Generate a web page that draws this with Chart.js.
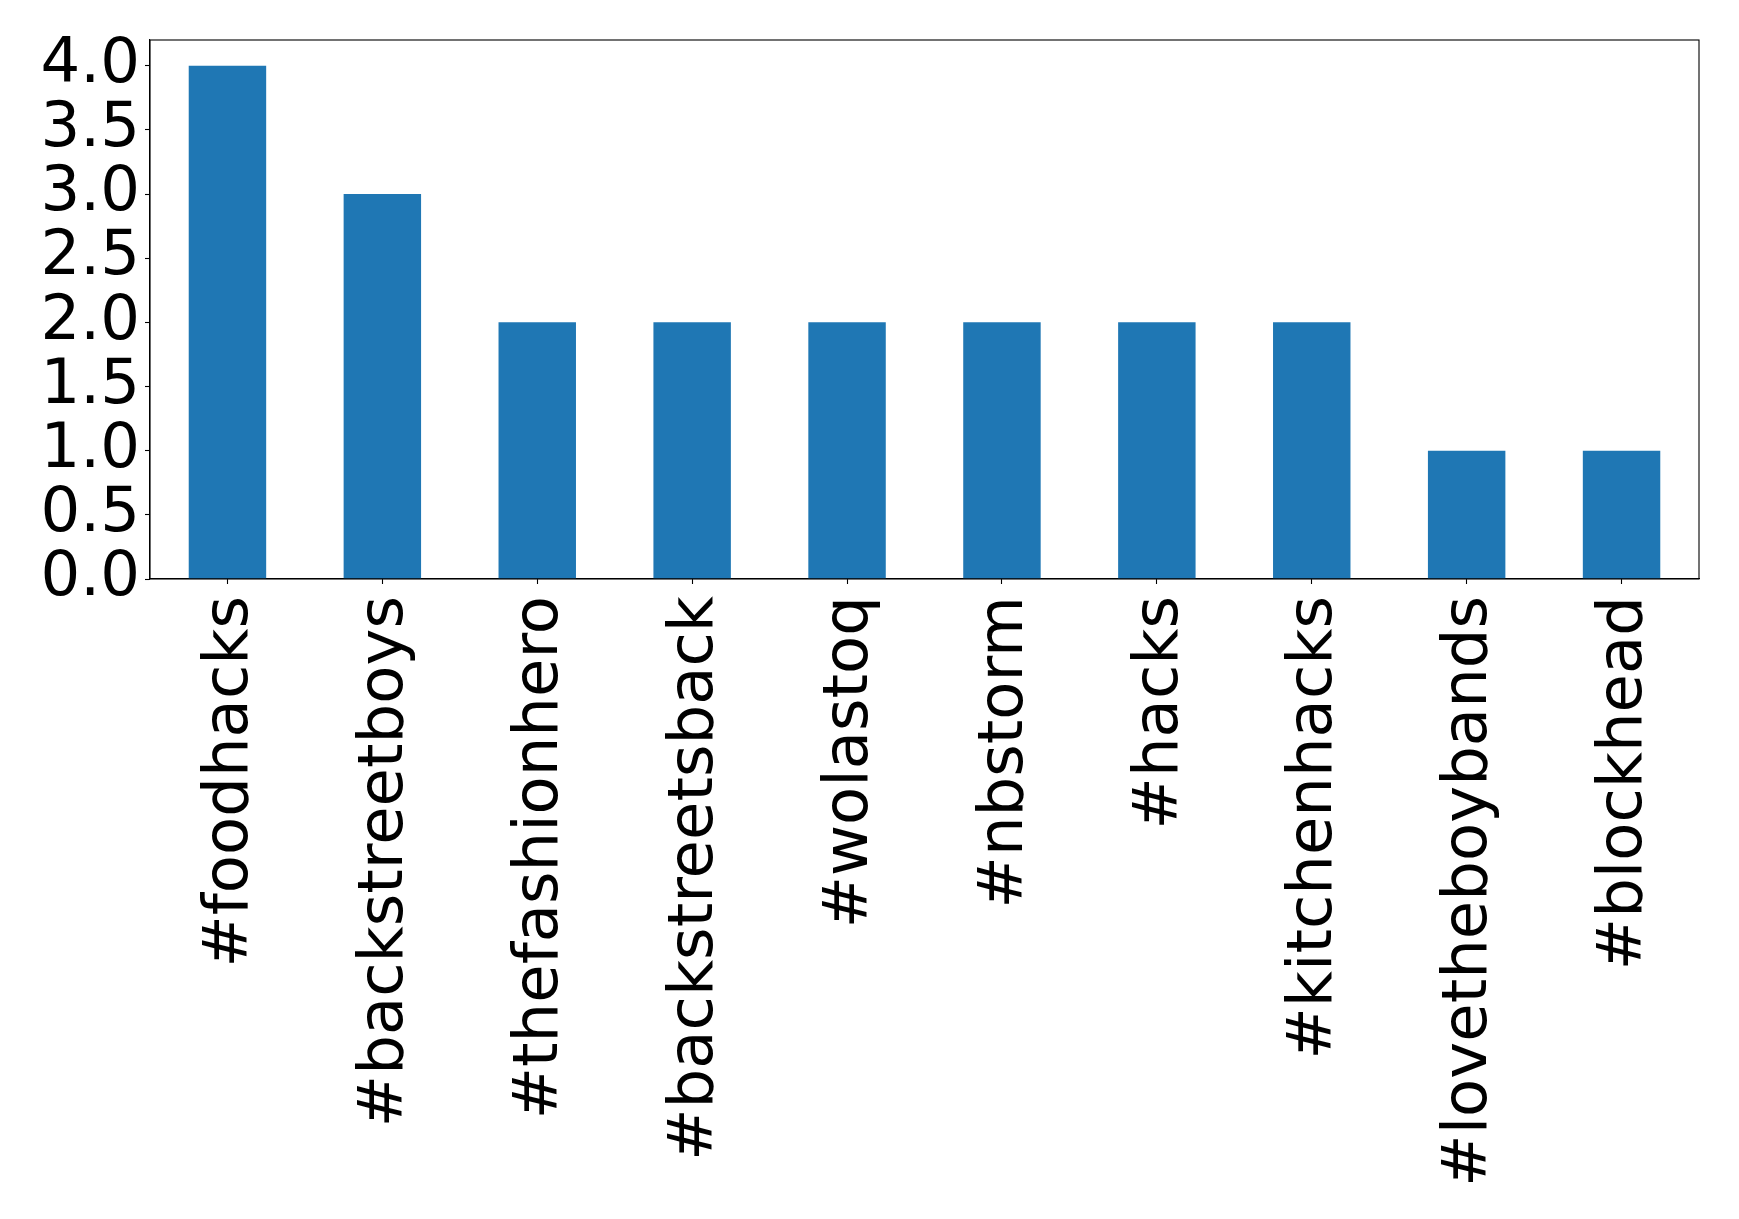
<!DOCTYPE html>
<html lang="en">
<head>
    <meta charset="UTF-8">
    <title>Hashtags</title>
    <script src="https://cdn.jsdelivr.net/npm/chart.js"></script>
    <style>
        body { margin: 0; background: white; }
        #wrap { width: 1739px; height: 1219px; }
    </style>
</head>
<body>
    <div id="wrap"><canvas id="myChart" width="1739" height="1219"></canvas></div>

    <script>
    const hashtags = ['#foodhacks', '#backstreetboys', '#thefashionhero', '#backstreetsback', '#wolastoq',
                      '#nbstorm', '#hacks', '#kitchenhacks', '#lovetheboybands', '#blockhead'];
    const counts = [4, 3, 2, 2, 2, 2, 2, 2, 1, 1];
    const yTicks = [0, 0.5, 1, 1.5, 2, 2.5, 3, 3.5, 4];

    const FONT = { family: '"DejaVu Sans", sans-serif', size: 62.5 };

    // top and right spines like matplotlib
    const frame = {
        id: 'frame',
        afterDraw(chart) {
            const a = chart.chartArea;
            const ctx = chart.ctx;
            ctx.save();
            ctx.strokeStyle = '#000';
            ctx.lineWidth = 1.1;
            ctx.strokeRect(a.left, a.top, a.right - a.left, a.bottom - a.top);
            ctx.restore();
        }
    };

    new Chart(document.getElementById('myChart'), {
        type: 'bar',
        data: {
            labels: hashtags,
            datasets: [{
                data: counts,
                backgroundColor: '#1f77b4',
                borderWidth: 0,
                categoryPercentage: 1.0,
                barPercentage: 0.5
            }]
        },
        options: {
            responsive: false,
            animation: false,
            layout: { padding: { top: 40, right: 40, left: 0, bottom: 0 } },
            plugins: { legend: { display: false }, tooltip: { enabled: false } },
            scales: {
                x: {
                    offset: true,
                    grid: { display: true, drawOnChartArea: false, offset: false, tickLength: 5, tickColor: '#000', tickWidth: 1.1 },
                    border: { color: '#000', width: 1.1 },
                    ticks: { color: '#000', font: FONT, minRotation: 90, maxRotation: 90, autoSkip: false, padding: 12, labelOffset: 3.5 },
                    afterFit(scale) { scale.height = 640; }
                },
                y: {
                    min: 0,
                    max: 4.2,
                    grid: { display: true, drawOnChartArea: false, tickLength: 5, tickColor: '#000', tickWidth: 1.1 },
                    border: { color: '#000', width: 1.1 },
                    ticks: {
                        color: '#000', font: { ...FONT, lineHeight: 0.8 }, padding: 5, includeBounds: false,
                        stepSize: 0.5, autoSkip: false,
                        callback: v => yTicks.includes(v) ? v.toFixed(1) : ''
                    },
                    afterFit(scale) { scale.width = 150; }
                }
            }
        },
        plugins: [frame]
    });
    </script>
</body>
</html>
